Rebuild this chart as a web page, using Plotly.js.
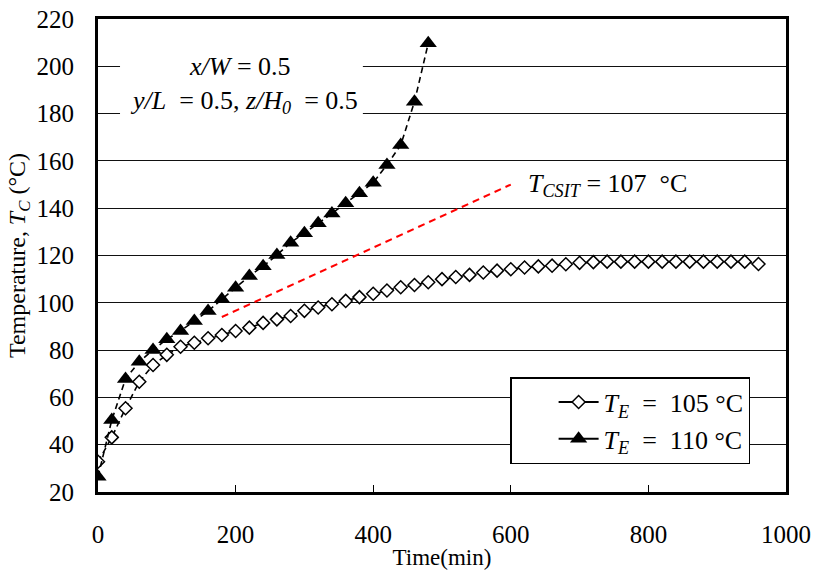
<!DOCTYPE html>
<html>
<head>
<meta charset="utf-8">
<script src="https://cdn.plot.ly/plotly-3.0.1.min.js"></script>
<style>
  html, body { margin: 0; padding: 0; background: #fff; }
  #chart { width: 813px; height: 570px; }
</style>
</head>
<body>
<div id="chart"></div>
<script>
// Sampling times (min) for each run
const timeTE105 = [0, 20, 40, 60, 80, 100, 120, 140, 160, 180, 200, 220, 240, 260, 280, 300,
  320, 340, 360, 380, 400, 420, 440, 460, 480, 500, 520, 540, 560, 580, 600, 620, 640, 660,
  680, 700, 720, 740, 760, 780, 800, 820, 840, 860, 880, 900, 920, 940, 960];
const tempTE105 = [32.8, 43.1, 55.4, 66.6, 73.7, 78.0, 81.4, 83.1, 85.0, 86.4, 88.1, 89.5,
  91.5, 93.0, 94.4, 96.6, 98.0, 99.4, 100.8, 102.4, 103.8, 105.2, 106.6, 107.5, 108.7, 110.0,
  110.9, 111.8, 112.8, 113.6, 114.2, 114.9, 115.4, 115.7, 116.3, 116.9, 117.2, 117.4, 117.4,
  117.4, 117.4, 117.4, 117.4, 117.4, 117.4, 117.4, 117.4, 117.4, 116.4];

const timeTE110 = [0, 20, 40, 60, 80, 100, 120, 140, 160, 180, 200, 220, 240, 260, 280, 300,
  320, 340, 360, 380, 400, 420, 440, 460, 480];
const tempTE110 = [26.5, 50.4, 67.8, 75.1, 80.0, 84.6, 88.1, 92.3, 96.5, 101.5, 106.4, 111.3,
  115.5, 120.2, 125.4, 129.4, 133.6, 137.8, 142.1, 146.3, 150.8, 158.3, 166.7, 185.0, 209.7];

// Pointer line for the T_CSIT label
const csitTime = [180, 600];
const csitTemp = [94, 150];

const xTicks = [0, 200, 400, 600, 800, 1000];
const yTicks = [20, 40, 60, 80, 100, 120, 140, 160, 180, 200, 220];

const seriesNames = ['<i>T</i><sub><i>E</i></sub>  =  105 °C', '<i>T</i><sub><i>E</i></sub>  =  110 °C'];

const serif = "'Liberation Serif', 'Times New Roman', Times, serif";

const diamondMarker = { symbol: 'diamond', size: 10, color: '#fff', line: { color: '#000', width: 1.5 } };
const triangleMarker = { symbol: 'triangle-up', size: 15, color: '#000', line: { color: '#000', width: 0 } };

const traces = [
  {
    x: timeTE105, y: tempTE105, type: 'scatter', mode: 'lines+markers', showlegend: false,
    line: { color: '#000', width: 1.6, dash: '6px,4px' }, marker: diamondMarker
  },
  {
    x: timeTE110, y: tempTE110, type: 'scatter', mode: 'lines+markers', showlegend: false,
    line: { color: '#000', width: 1.6, dash: '6px,4px' }, marker: triangleMarker
  },
  {
    x: csitTime, y: csitTemp, type: 'scatter', mode: 'lines', showlegend: false,
    line: { color: '#ff0000', width: 2, dash: '7px,5px' }, hoverinfo: 'skip'
  },
  // legend keys (solid line samples)
  {
    x: [null], y: [null], type: 'scatter', mode: 'lines+markers', name: seriesNames[0],
    line: { color: '#000', width: 2 }, marker: diamondMarker
  },
  {
    x: [null], y: [null], type: 'scatter', mode: 'lines+markers', name: seriesNames[1],
    line: { color: '#000', width: 2 }, marker: triangleMarker
  }
];

const layout = {
  width: 813, height: 570,
  margin: { l: 98, r: 27, t: 19, b: 78 },
  paper_bgcolor: '#fff', plot_bgcolor: '#fff',
  font: { family: serif, size: 24, color: '#000' },
  showlegend: true,
  legend: {
    x: 0.599, y: 0.243, xanchor: 'left', yanchor: 'top',
    bgcolor: '#fff', bordercolor: '#000', borderwidth: 1.5,
    font: { family: serif, size: 26, color: '#000' },
    indentation: 42, itemwidth: 40, tracegroupgap: 0
  },
  xaxis: {
    range: [0, 1000], tickvals: xTicks, ticktext: xTicks.map(String),
    showgrid: false, zeroline: false,
    showline: true, mirror: true, linecolor: '#000', linewidth: 3,
    ticks: 'inside', ticklen: 7, tickwidth: 1, tickcolor: '#000',
    ticklabelstandoff: 18,
    tickfont: { family: serif, size: 25 },
    title: { text: 'Time(min)', font: { family: serif, size: 23 }, standoff: 3 }
  },
  yaxis: {
    range: [20, 220], tickvals: yTicks, ticktext: yTicks.map(String),
    showgrid: true, gridcolor: '#111', gridwidth: 1, zeroline: false,
    showline: true, mirror: true, linecolor: '#000', linewidth: 3,
    ticks: '', ticklabelstandoff: 16,
    tickfont: { family: serif, size: 25 },
    title: { text: 'Temperature, <i>T</i><sub><i>C</i></sub> (°C)', font: { family: serif, size: 24 }, standoff: 5 }
  },
  shapes: [
    // white panel behind the position labels
    { type: 'rect', xref: 'x', yref: 'y', x0: 32, x1: 385, y0: 172, y1: 212,
      fillcolor: '#fff', line: { width: 0 }, layer: 'between' }
  ],
  annotations: [
    { xref: 'x', yref: 'y', x: 206, y: 200, showarrow: false,
      text: '<i>x/W</i> = 0.5', font: { family: serif, size: 26 } },
    { xref: 'x', yref: 'y', x: 212, y: 185, showarrow: false,
      text: '<i>y/L</i>  = 0.5, <i>z/H</i><sub><i>0</i></sub>  = 0.5', font: { family: serif, size: 26 } },
    { xref: 'x', yref: 'y', x: 622, y: 150, xanchor: 'left', showarrow: false,
      text: '<i>T</i><sub><i>CSIT</i></sub> = 107  °C', font: { family: serif, size: 26 } }
  ]
};

Plotly.newPlot('chart', traces, layout, { displayModeBar: false, staticPlot: true });
</script>
</body>
</html>
